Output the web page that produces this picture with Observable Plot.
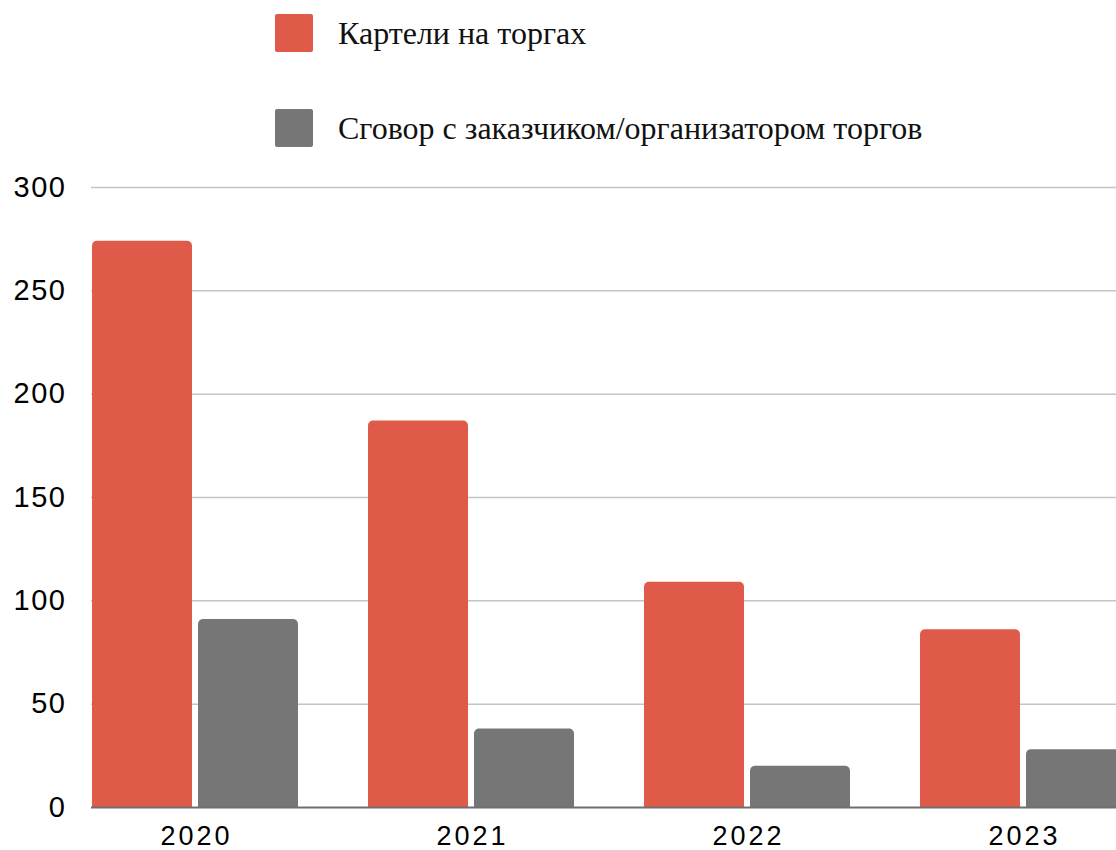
<!DOCTYPE html>
<html>
<head>
<meta charset="utf-8">
<script src="https://cdn.jsdelivr.net/npm/d3@7"></script>
<script src="https://cdn.jsdelivr.net/npm/@observablehq/plot@0.6"></script>
<style>
  html, body { margin: 0; padding: 0; background: #fff; overflow: hidden; }
  #wrap { position: relative; width: 1116px; height: 850px; overflow: hidden; }
  #legend { position: absolute; left: 275px; top: 0; font-family: "Liberation Serif", "Times New Roman", serif; font-size: 32px; color: #111; }
  .item { position: absolute; left: 0; display: flex; align-items: center; white-space: nowrap; }
  .sw { width: 38px; height: 38px; border-radius: 2px; margin-right: 25px; }
  #chart { position: absolute; left: 0; top: 160px; }
  #chart svg { max-width: none !important; }
  #chart g[aria-label="y-axis tick label"] text { letter-spacing: 1.5px; }
  #chart g[aria-label="x-axis tick label"] text { letter-spacing: 3px; }
</style>
</head>
<body>
<div id="wrap">
  <div id="legend"></div>
  <div id="chart"></div>
</div>
<script>
const years = ["2020", "2021", "2022", "2023"];
const seriesNames = ["Картели на торгах", "Сговор с заказчиком/организатором торгов"];
const cartels = [274, 187, 109, 86];
const collusion = [91, 38, 20, 28];
const colors = ["#E05A4A", "#767676"];
const yTicks = [0, 50, 100, 150, 200, 250, 300];

const red = years.map((y, i) => ({year: y, series: seriesNames[0], value: cartels[i]}));
const gray = years.map((y, i) => ({year: y, series: seriesNames[1], value: collusion[i]}));

// legend
const legend = document.getElementById("legend");
seriesNames.forEach((s, i) => {
  const it = document.createElement("div");
  it.className = "item";
  it.style.top = (i === 0 ? 14 : 109) + "px";
  const sw = document.createElement("div");
  sw.className = "sw";
  sw.style.background = colors[i];
  const tx = document.createElement("span");
  tx.textContent = s;
  it.appendChild(sw); it.appendChild(tx);
  legend.appendChild(it);
});

const chart = Plot.plot({
  width: 1127,
  height: 690,
  marginLeft: 91,
  marginRight: 0,
  marginTop: 27,
  marginBottom: 43,
  style: {fontFamily: "'Liberation Sans', Arial, sans-serif", fontSize: "25px", color: "#000", maxWidth: "none"},
  x: {domain: years, paddingInner: 0.255, paddingOuter: 0, label: null},
  y: {domain: [0, 300], ticks: yTicks, label: null},
  color: {domain: seriesNames, range: colors},
  marks: [
    Plot.ruleY(yTicks.filter(d => d > 0), {stroke: "#c4c4c4", strokeWidth: 1.5}),
    Plot.barY(red, {x: "year", y: "value", fill: "series", insetRight: 106, ry1: 5}),
    Plot.barY(gray, {x: "year", y: "value", fill: "series", insetLeft: 106, ry1: 5}),
    Plot.ruleY([0], {stroke: "#6e6e6e", strokeWidth: 2}),
    Plot.axisY({ticks: yTicks, tickSize: 0, tickPadding: 25, fontSize: 29, anchor: "left", label: null}),
    Plot.axisX({tickSize: 0, tickPadding: 18, fontSize: 27, anchor: "bottom", label: null, dx: 1})
  ]
});
document.getElementById("chart").appendChild(chart);
</script>
</body>
</html>
